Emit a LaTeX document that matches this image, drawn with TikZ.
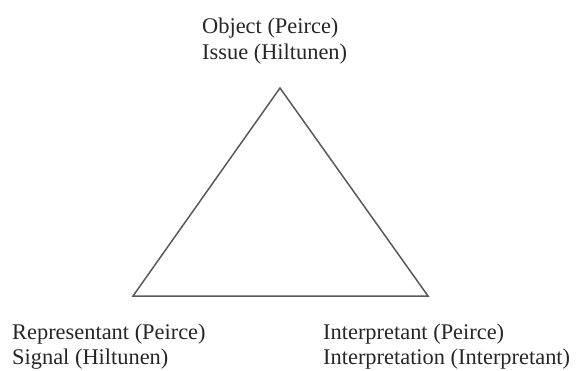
\documentclass[tikz,border=0pt]{standalone}
\usepackage{fontspec}
\setmainfont{Liberation Serif}
\begin{document}
\begin{tikzpicture}[x=1pt,y=-1pt,
  lbl/.style={anchor=base west,inner sep=0pt,font=\fontsize{22.4}{25}\selectfont,text=black!85},
  edge/.style={draw=black!65,line width=1.5pt,line join=miter}]
\useasboundingbox (0,0) rectangle (581,370);
\coordinate (top) at (280,88);
\coordinate (bl) at (133,296);
\coordinate (br) at (428,296);
\draw[edge] (top) -- (bl) -- (br) -- cycle;
\node[lbl] (obj1) at (202,33) {Object (Peirce)};
\node[lbl] (obj2) at (202,59) {Issue (Hiltunen)};
\node[lbl] (rep1) at (12,339) {Representant (Peirce)};
\node[lbl] (rep2) at (12,364) {Signal (Hiltunen)};
\node[lbl] (int1) at (323,339) {Interpretant (Peirce)};
\node[lbl] (int2) at (323,364) {Interpretation (Interpretant)};
\end{tikzpicture}
\end{document}
